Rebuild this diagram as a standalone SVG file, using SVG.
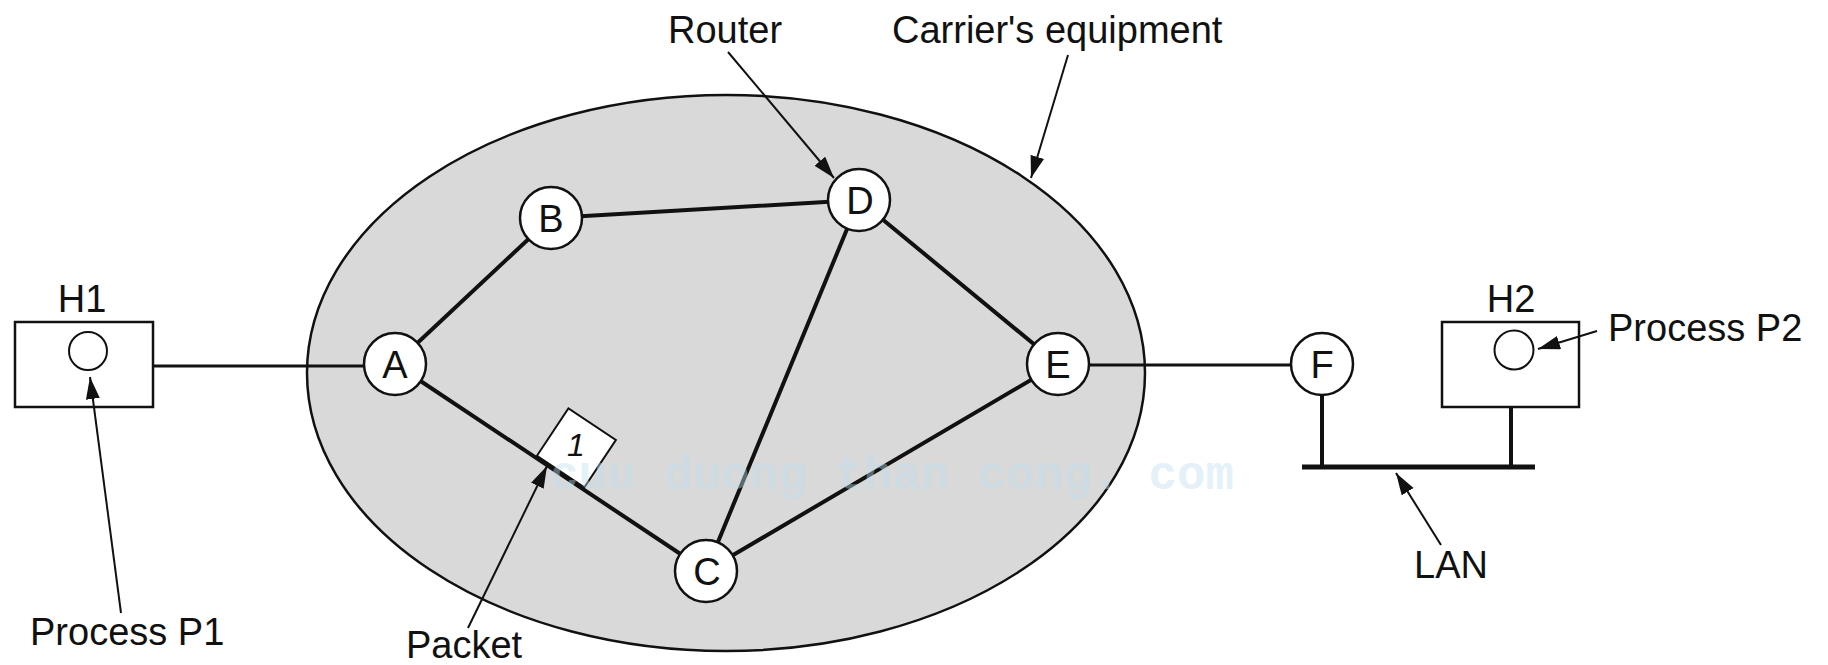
<svg xmlns="http://www.w3.org/2000/svg" width="1828" height="665" viewBox="0 0 1828 665">
<style>
  .lbl { font-family: "Liberation Sans", Arial, sans-serif; font-size: 38px; fill: #111; }
  .nl { font-family: "Liberation Sans", Arial, sans-serif; font-size: 38px; fill: #111; text-anchor: middle; }
  .node { fill: #fff; stroke: #111; stroke-width: 2.5; }
  .link { stroke: #111; stroke-width: 4; fill: none; stroke-linecap: round; }
  .thin { stroke: #111; stroke-width: 2; fill: none; }
  .wm { font-family: "Liberation Mono", "DejaVu Sans Mono", monospace; font-size: 47.5px; font-weight: bold; fill: #bfe0f0; opacity: 0.42; }
</style>
<defs>
  <marker id="ah" markerUnits="userSpaceOnUse" markerWidth="24" markerHeight="16" refX="22" refY="7" orient="auto">
    <path d="M0,0 L22,7 L0,14 z" fill="#111"/>
  </marker>
</defs>
<rect width="1828" height="665" fill="#fff"/>

<g id="carrier">
  <ellipse cx="726" cy="373" rx="419" ry="278" fill="#d9d9d9" stroke="#111" stroke-width="2.5"/>
</g>

<g id="connectors">
  <line class="link" x1="395" y1="364" x2="551" y2="218"/>
  <line class="link" x1="551" y1="218" x2="859" y2="200"/>
  <line class="link" x1="859" y1="200" x2="1058" y2="364"/>
  <line class="link" x1="859" y1="200" x2="706" y2="571"/>
  <line class="link" x1="395" y1="364" x2="706" y2="571"/>
  <line class="link" x1="706" y1="571" x2="1058" y2="364"/>
  <line class="link" x1="153" y1="366" x2="395" y2="366" style="stroke-width:3.2"/>
  <line class="link" x1="1058" y1="365" x2="1322" y2="365" style="stroke-width:3.2"/>
  <line class="link" x1="1322" y1="396" x2="1322" y2="467"/>
  <line class="link" x1="1511" y1="407" x2="1511" y2="467"/>
  <line x1="1302" y1="467" x2="1535" y2="467" stroke="#111" stroke-width="5"/>
</g>

<g id="H1">
  <rect x="15" y="322" width="138" height="85" fill="#fff" stroke="#111" stroke-width="2.5"/>
  <circle cx="88" cy="351" r="19" fill="#fff" stroke="#111" stroke-width="2"/>
  <text class="nl" x="82" y="312">H1</text>
</g>
<g id="H2">
  <rect x="1442" y="322" width="137" height="85" fill="#fff" stroke="#111" stroke-width="2.5"/>
  <circle cx="1514" cy="350" r="19.5" fill="#fff" stroke="#111" stroke-width="2"/>
  <text class="nl" x="1511" y="312">H2</text>
</g>

<g id="A"><circle class="node" cx="395" cy="364" r="31"/><text class="nl" x="395" y="378">A</text></g>
<g id="B"><circle class="node" cx="551" cy="218" r="31"/><text class="nl" x="551" y="232">B</text></g>
<g id="D"><circle class="node" cx="859" cy="200" r="31"/><text class="nl" x="860" y="214">D</text></g>
<g id="E"><circle class="node" cx="1058" cy="364" r="31"/><text class="nl" x="1058" y="378">E</text></g>
<g id="C"><circle class="node" cx="706" cy="571" r="31"/><text class="nl" x="707" y="585">C</text></g>
<g id="F"><circle class="node" cx="1322" cy="364" r="31"/><text class="nl" x="1322" y="378">F</text></g>

<g id="packet">
  <rect x="169" y="-59" width="57" height="57" transform="translate(395,364) rotate(33.6)" fill="#fff" stroke="#111" stroke-width="2"/>
  <text x="576" y="456" text-anchor="middle" font-family="Liberation Sans, Arial, sans-serif" font-style="italic" font-size="32" fill="#111">1</text>
</g>

<g id="annotations">
  <line class="thin" x1="121" y1="613" x2="90" y2="377" marker-end="url(#ah)"/>
  <line class="thin" x1="468" y1="628" x2="547" y2="466" marker-end="url(#ah)"/>
  <line class="thin" x1="728" y1="52" x2="834" y2="178" marker-end="url(#ah)"/>
  <line class="thin" x1="1068" y1="55" x2="1031" y2="178" marker-end="url(#ah)"/>
  <line class="thin" x1="1597" y1="331" x2="1538" y2="349" marker-end="url(#ah)"/>
  <line class="thin" x1="1441" y1="545" x2="1396" y2="473" marker-end="url(#ah)"/>
</g>

<text class="wm" x="550" y="489">cuu duong than cong. com</text>

<g id="labels">
  <text class="lbl" x="30" y="645">Process P1</text>
  <text class="lbl" x="406" y="658">Packet</text>
  <text class="lbl" x="668" y="43">Router</text>
  <text class="lbl" x="892" y="43">Carrier's equipment</text>
  <text class="lbl" x="1608" y="341">Process P2</text>
  <text class="lbl" x="1414" y="578">LAN</text>
</g>
</svg>
